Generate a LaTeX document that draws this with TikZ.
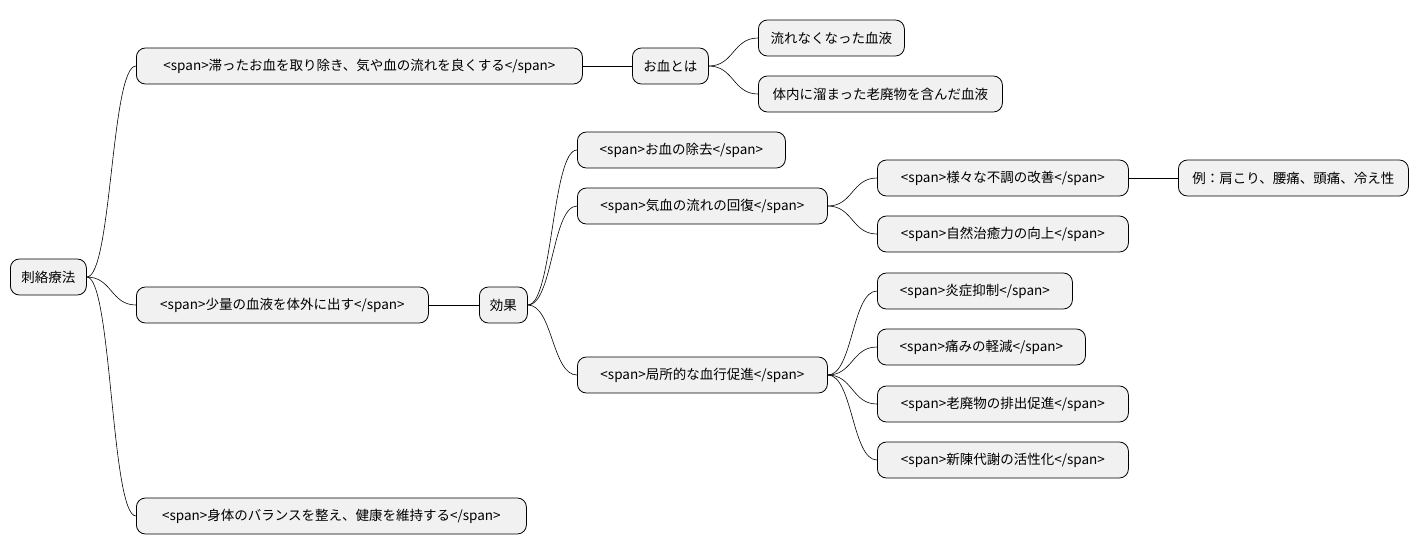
\documentclass[tikz,border=0pt]{standalone}
\usepackage{fontspec}
\setmainfont{Noto Sans CJK JP}
\begin{document}
\begin{tikzpicture}[x=1pt,y=-1pt,
  box/.style={draw=black,line width=0.8pt,fill={rgb,255:red,241;green,241;blue,241},rounded corners=9pt,
    minimum height=36pt,anchor=west,inner sep=0pt,font=\fontsize{13.5}{16}\selectfont},
  e/.style={draw=black,line width=0.6pt}]
\useasboundingbox (0,0) rectangle (1419,555);
\newcommand{\bx}[5]{\node[box,minimum width=#3] (#1) at (#2,#4) {#5};}
\bx{r}{10}{76pt}{277}{刺絡療法}
\bx{a}{136}{446pt}{66}{<span>滞ったお血を取り除き、気や血の流れを良くする</span>}
\bx{a1}{632}{76pt}{66}{お血とは}
\bx{a11}{758}{146pt}{38}{流れなくなった血液}
\bx{a12}{758}{244pt}{94}{体内に溜まった老廃物を含んだ血液}
\bx{b}{136}{292pt}{305}{<span>少量の血液を体外に出す</span>}
\bx{b1}{479}{48pt}{305}{効果}
\bx{c1}{577}{208pt}{150}{<span>お血の除去</span>}
\bx{c2}{577}{250pt}{206}{<span>気血の流れの回復</span>}
\bx{d1}{877}{251pt}{178}{<span>様々な不調の改善</span>}
\bx{d11}{1178}{230pt}{178}{例：肩こり、腰痛、頭痛、冷え性}
\bx{d2}{877}{251pt}{234}{<span>自然治癒力の向上</span>}
\bx{c3}{577}{250pt}{375}{<span>局所的な血行促進</span>}
\bx{f1}{877}{195pt}{291}{<span>炎症抑制</span>}
\bx{f2}{877}{208pt}{347}{<span>痛みの軽減</span>}
\bx{f3}{877}{251pt}{404}{<span>老廃物の排出促進</span>}
\bx{f4}{877}{251pt}{460}{<span>新陳代謝の活性化</span>}
\bx{g}{136}{390pt}{516}{<span>身体のバランスを整え、健康を維持する</span>}
\foreach \p/\c in {r/a,r/b,r/g,a/a1,a1/a11,a1/a12,b/b1,b1/c1,b1/c2,b1/c3,c2/d1,c2/d2,d1/d11,c3/f1,c3/f2,c3/f3,c3/f4}
  \draw[e] (\p.east) .. controls ([xshift=25]\p.east) and ([xshift=-25]\c.west) .. (\c.west);
\end{tikzpicture}
\end{document}
